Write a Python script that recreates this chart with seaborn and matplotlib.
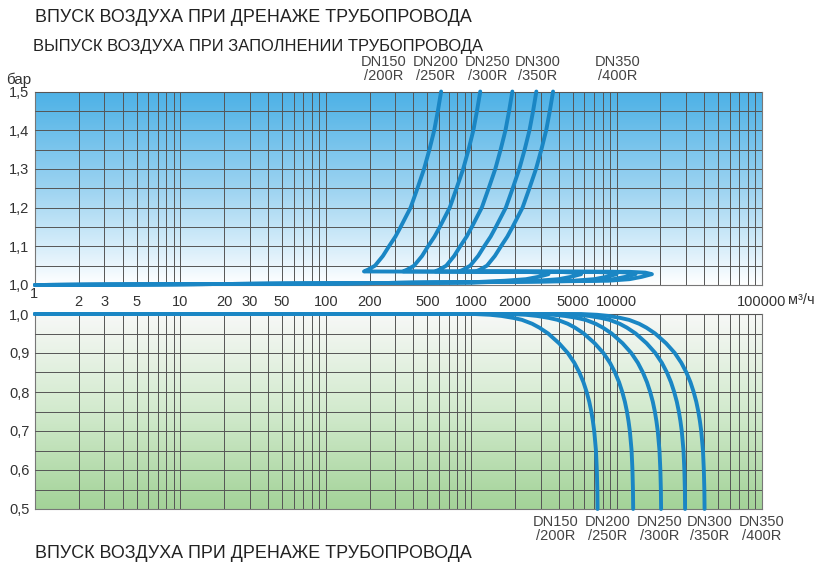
"""
Air valve capacity chart: air release while filling (top)
and air intake while draining (bottom), pressure vs flow.
"""

import numpy as np
import matplotlib
matplotlib.use("Agg")
import matplotlib.pyplot as plt
from matplotlib.colors import LinearSegmentedColormap
from matplotlib.ticker import MultipleLocator, NullFormatter, FixedLocator
import seaborn as sns

sns.set_theme(style="white")
plt.rcParams["font.family"] = ["Liberation Sans", "DejaVu Sans"]

# ---------------------------------------------------------
# Data
# ---------------------------------------------------------
Q_TICKS = [2, 3, 5, 10, 20, 30, 50, 100, 200, 500, 1000, 2000, 5000, 10000, 100000]
SIZES = ["DN150\n/200R", "DN200\n/250R", "DN250\n/300R", "DN300\n/350R", "DN350\n/400R"]

# filling: air release (pressure above atmosphere), bar
FILL_P = [1.0, 1.002, 1.004, 1.007, 1.011, 1.015, 1.021, 1.028, 1.032, 1.034,
          1.035, 1.04, 1.05, 1.075, 1.1, 1.125, 1.15, 1.2, 1.25, 1.3, 1.35, 1.4, 1.45, 1.5]
FILL_DN150 = [1, 10, 100, 1000, 1700, 2380, 2890, 3400, 3060, 2380,
              183, 196, 218, 247, 272, 301, 327, 383, 427, 474, 516, 557, 590, 621]
FILL_DN200 = [1, 10, 100, 1000, 2850, 3990, 4845, 5700, 5130, 3990,
              340, 364, 405, 459, 505, 559, 608, 712, 793, 881, 959, 1035, 1096, 1154]
FILL_DN250 = [1, 10, 100, 1000, 5000, 7000, 8500, 10000, 9000, 7000,
              565, 606, 674, 763, 840, 930, 1010, 1183, 1319, 1465, 1594, 1721, 1823, 1919]
FILL_DN300 = [1, 10, 100, 1000, 6750, 9450, 11475, 13500, 12150, 9450,
              827, 886, 985, 1116, 1229, 1360, 1478, 1731, 1930, 2142, 2332, 2517, 2666, 2806]
FILL_DN350 = [1, 10, 100, 1000, 8750, 12250, 14875, 17500, 15750, 12250,
              1077, 1154, 1284, 1454, 1602, 1772, 1925, 2255, 2514, 2791, 3038, 3280, 3474, 3656]

# draining: air intake (vacuum), bar
DRAIN_P = [1.0, 1.0, 0.998, 0.995, 0.99, 0.985, 0.975, 0.965, 0.95, 0.925, 0.9, 0.875,
           0.85, 0.825, 0.8, 0.775, 0.75, 0.725, 0.7, 0.65, 0.6, 0.55, 0.5]
DRAIN_DN150 = [1, 1045, 1346, 1618, 1945, 2234, 2624, 2944, 3381, 4018, 4613, 5117,
               5546, 5916, 6223, 6486, 6699, 6871, 7015, 7211, 7311, 7370, 7396]
DRAIN_DN200 = [1, 1837, 2366, 2844, 3419, 3927, 4613, 5176, 5944, 7064, 8110, 8996,
               9750, 10400, 10940, 11402, 11777, 12079, 12332, 12677, 12853, 12956, 13002]
DRAIN_DN250 = [1, 2858, 3681, 4425, 5320, 6110, 7177, 8052, 9247, 10989, 12617, 13995,
               15168, 16180, 17020, 17739, 18322, 18792, 19186, 19722, 19996, 20157, 20228]
DRAIN_DN300 = [1, 4180, 5384, 6472, 7780, 8936, 10496, 11776, 13524, 16072, 18452, 20468,
               22184, 23664, 24892, 25944, 26796, 27484, 28060, 28844, 29244, 29480, 29584]
DRAIN_DN350 = [1, 5690, 7329, 8810, 10591, 12164, 14288, 16030, 18410, 21878, 25118, 27862,
               30198, 32213, 33884, 35316, 36476, 37413, 38197, 39264, 39808, 40130, 40271]

FILL = [FILL_DN150, FILL_DN200, FILL_DN250, FILL_DN300, FILL_DN350]
DRAIN = [DRAIN_DN150, DRAIN_DN200, DRAIN_DN250, DRAIN_DN300, DRAIN_DN350]

LINE = "#1a86c4"
GRID = "#555555"
TXT = "#333333"

# ---------------------------------------------------------
# Figure
# ---------------------------------------------------------
W, H = 821, 566
fig = plt.figure(figsize=(W / 100, H / 100), dpi=100)
fig.patch.set_facecolor("white")


def fx(px):
    return px / W


def fy(py):
    return 1 - py / H


ax_top = fig.add_axes([fx(35), fy(285), fx(727), (285 - 91.5) / H])
ax_bot = fig.add_axes([fx(35), fy(509), fx(727), (509 - 314) / H])

blue = LinearSegmentedColormap.from_list(
    "sky", [(0, "#ffffff"), (0.12, "#e6f4fc"), (0.5, "#9cd3f1"), (1, "#4cb1e6")])
green = LinearSegmentedColormap.from_list(
    "meadow", [(0, "#a3d398"), (0.5, "#d2eacd"), (1, "#f7f8f7")])
grad = np.linspace(0, 1, 256).reshape(-1, 1)

for ax, cmap, ylim in [(ax_top, blue, (1.0, 1.5)), (ax_bot, green, (0.5, 1.0))]:
    ax.imshow(grad, aspect="auto", cmap=cmap, origin="lower",
              extent=[0, 1, 0, 1], transform=ax.transAxes, zorder=0)
    ax.set_xscale("log")
    ax.set_xlim(1, 100000)
    ax.set_ylim(*ylim)
    ax.yaxis.set_major_locator(MultipleLocator(0.1))
    ax.yaxis.set_minor_locator(MultipleLocator(0.05))
    ax.set_yticklabels([f"{v:.1f}".replace(".", ",") for v in ax.get_yticks()])
    ax.grid(True, which="both", color=GRID, lw=0.7, zorder=1)
    ax.set_axisbelow(False)
    ax.tick_params(which="both", length=0, labelsize=10.5, labelcolor=TXT, pad=4)
    for s in ax.spines.values():
        s.set_color("#777777")
        s.set_linewidth(0.8)

# x labels sit between the two panels
ax_top.xaxis.set_major_locator(FixedLocator(Q_TICKS))
ax_top.set_xticklabels([str(q) for q in Q_TICKS])
ax_top.xaxis.set_minor_formatter(NullFormatter())
ax_top.tick_params(axis="x", pad=7)
ax_bot.xaxis.set_major_locator(FixedLocator(Q_TICKS))
ax_bot.set_xticklabels([])
ax_bot.xaxis.set_minor_formatter(NullFormatter())
fig.text(fx(34), fy(294), "1", ha="center", va="center", fontsize=10.5, color=TXT)
fig.text(fx(788), fy(300), "м³/ч", ha="left", va="center", fontsize=10.5, color=TXT)

for q in FILL:
    sns.lineplot(x=q, y=FILL_P, ax=ax_top, sort=False, estimator=None,
                 color=LINE, lw=2.8, zorder=3, clip_on=False)
for q in DRAIN:
    sns.lineplot(x=q, y=DRAIN_P, ax=ax_bot, sort=False, estimator=None,
                 color=LINE, lw=2.8, zorder=3, clip_on=False)
ax_top.set_xlabel("")
ax_bot.set_xlabel("")

# texts
fig.text(fx(35), fy(17), "ВПУСК ВОЗДУХА ПРИ ДРЕНАЖЕ ТРУБОПРОВОДА",
         fontsize=12.9, color="#222222", va="center")
fig.text(fx(33), fy(46), "ВЫПУСК ВОЗДУХА ПРИ ЗАПОЛНЕНИИ ТРУБОПРОВОДА",
         fontsize=11.9, color="#222222", va="center")
fig.text(fx(35), fy(553), "ВПУСК ВОЗДУХА ПРИ ДРЕНАЖЕ ТРУБОПРОВОДА",
         fontsize=12.9, color="#222222", va="center")
fig.text(fx(6), fy(80), "бар", fontsize=11, color=TXT, va="center")

for cx, lab in zip([384, 436, 488, 538, 618], SIZES):
    fig.text(fx(cx), fy(69), lab, ha="center", va="center", fontsize=10.5,
             color="#444444", linespacing=1.0)
for cx, lab in zip([556, 608, 660, 710, 762], SIZES):
    fig.text(fx(cx), fy(529.5), lab, ha="center", va="center", fontsize=10.5,
             color="#444444", linespacing=1.0)

fig.savefig("out.png", dpi=100)
